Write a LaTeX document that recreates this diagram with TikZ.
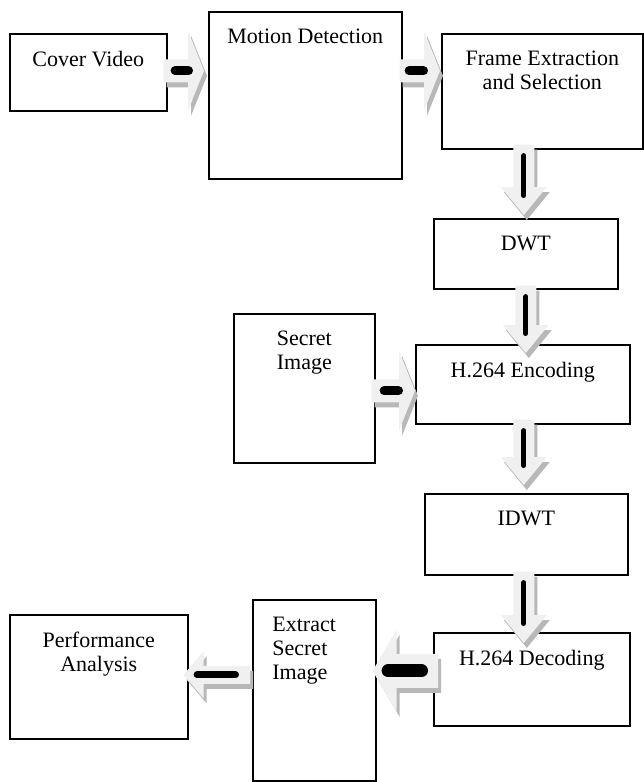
\documentclass[tikz,border=0pt]{standalone}
\usepackage{fontspec}
\setmainfont{Liberation Serif}
\usetikzlibrary{calc}

\begin{document}
\begin{tikzpicture}[
  x=0.5pt, y=-0.5pt,
  font=\fontsize{11}{12}\selectfont,
  box/.style={draw=black, line width=0.8pt, inner sep=0pt, anchor=north west},
  caption/.style={label={[anchor=north, inner sep=0pt, align=center,
    yshift=-9pt]north:{#1}}},
  shaft/.store in=\shaftw, headw/.store in=\headw, headl/.store in=\headl,
  shaft=5.75pt, headw=20pt, headl=8pt,
  blockarrow/.style={fill=black!6,
    preaction={fill=black!28, transform canvas={shift={(1.5pt,-2.5pt)}}},
    to path={
      ($(\tikztostart)!\shaftw!90:(\tikztotarget)$)
      -- ($(\tikztotarget)!\headl!(\tikztostart)!\shaftw!90:(\tikztotarget)$)
      -- ($(\tikztotarget)!\headl!(\tikztostart)!\headw!90:(\tikztotarget)$)
      -- (\tikztotarget)
      -- ($(\tikztotarget)!\headl!(\tikztostart)!\headw!-90:(\tikztotarget)$)
      -- ($(\tikztotarget)!\headl!(\tikztostart)!\shaftw!-90:(\tikztotarget)$)
      -- ($(\tikztostart)!\shaftw!-90:(\tikztotarget)$) -- cycle}},
  downarrow/.style={blockarrow, shaft=5.25pt, headw=11.5pt, headl=14pt},
  bar/.style={draw=black, line width=#1, line cap=round}
]
  \useasboundingbox (0,0) rectangle (643,782);

  % boxes
  \node[box, minimum width=78.5pt, minimum height=38.5pt, caption=Cover Video] (cover) at (9,33) {};
  \node[box, minimum width=96.5pt, minimum height=83.5pt, caption=Motion Detection] (motion) at (208,11) {};
  \node[box, minimum width=100.5pt, minimum height=57.5pt, caption={Frame Extraction\\and Selection}] (frame) at (441,33) {};
  \node[box, minimum width=92pt, minimum height=35pt, caption=DWT] (dwt) at (433,218) {};
  \node[box, minimum width=70.5pt, minimum height=74.5pt, caption={Secret\\Image}] (secret) at (233,313) {};
  \node[box, minimum width=107pt, minimum height=39.5pt, caption=H.264 Encoding] (enc) at (415,344) {};
  \node[box, minimum width=101.5pt, minimum height=40.5pt, caption=IDWT] (idwt) at (424,493) {};
  \node[box, minimum width=98pt, minimum height=46.5pt, caption=H.264 Decoding] (dec) at (433,632) {};
  \node[box, minimum width=61.5pt, minimum height=90.5pt,
    label={[anchor=north west, inner sep=0pt, align=left, xshift=10pt, yshift=-9pt]north west:{Extract\\Secret\\Image}}] (extract) at (252,599) {};
  \node[box, minimum width=89pt, minimum height=62pt, caption={Performance\\Analysis}] (perf) at (9,614) {};

  % right arrows
  \fill[blockarrow] ($(cover.east)+(-4,-1.5)$) to ($(motion.west |- cover.east)+(-4,-1.5)$);
  \draw[bar=4.5pt, shorten <=5.75pt, shorten >=7.75pt] ($(cover.east)+(-4,-1.5)$) -- ($(motion.west |- cover.east)+(-4,-1.5)$);
  \fill[blockarrow] ($(motion.east |- cover.east)+(-3,-1.5)$) to ($(frame.west |- cover.east)+(-1,-1.5)$);
  \draw[bar=4.5pt, shorten <=4.75pt, shorten >=8.25pt] ($(motion.east |- cover.east)+(-3,-1.5)$) -- ($(frame.west |- cover.east)+(-1,-1.5)$);
  \fill[blockarrow] ($(secret.east)+(-4,2.5)$) to ($(enc.west |- secret.east)+(0,2.5)$);
  \draw[bar=4.5pt, shorten <=6.25pt, shorten >=8.25pt] ($(secret.east)+(-4,2.5)$) -- ($(enc.west |- secret.east)+(0,2.5)$);

  % down arrows
  \fill[downarrow] ($(dwt.north |- frame.south)+(-2,-5)$) to ($(dwt.north)+(-2,-3)$);
  \draw[bar=2.5pt, shorten <=5.5pt, shorten >=9.75pt] ($(dwt.north |- frame.south)+(-2,-5)$) -- ($(dwt.north)+(-2,-3)$);
  \fill[downarrow] ($(dwt.south)+(0,-4)$) to ($(dwt.south |- enc.north)+(0,9)$);
  \draw[bar=2.5pt, shorten <=5.5pt, shorten >=9.75pt] ($(dwt.south)+(0,-4)$) -- ($(dwt.south |- enc.north)+(0,9)$);
  \fill[downarrow] ($(dwt.south |- enc.south)+(-2,-5)$) to ($(dwt.south |- idwt.north)+(-2,-8)$);
  \draw[bar=2.5pt, shorten <=5.5pt, shorten >=9.75pt] ($(dwt.south |- enc.south)+(-2,-5)$) -- ($(dwt.south |- idwt.north)+(-2,-8)$);
  \fill[downarrow] ($(dwt.south |- idwt.south)+(-2,-4)$) to ($(dwt.south |- dec.north)+(-2,11)$);
  \draw[bar=2.5pt, shorten <=5.5pt, shorten >=9.75pt] ($(dwt.south |- idwt.south)+(-2,-4)$) -- ($(dwt.south |- dec.north)+(-2,11)$);

  % left arrows
  \fill[blockarrow, shaft=8.5pt, headw=20.5pt, headl=12pt] ($(dec.west)+(5,-8.5)$) to ($(extract.east |- dec.west)+(-4,-8.5)$);
  \draw[bar=6.5pt, shorten <=8.25pt, shorten >=7.75pt] ($(dec.west)+(5,-8.5)$) -- ($(extract.east |- dec.west)+(-4,-8.5)$);
  \fill[blockarrow, shaft=4.5pt, headw=11.75pt, headl=10pt] ($(extract.west |- perf.east)+(-2,-2)$) to ($(perf.east)+(-5,-2)$);
  \draw[bar=3.5pt, shorten <=7.25pt, shorten >=6.75pt] ($(extract.west |- perf.east)+(-2,-2)$) -- ($(perf.east)+(-5,-2)$);
\end{tikzpicture}
\end{document}
